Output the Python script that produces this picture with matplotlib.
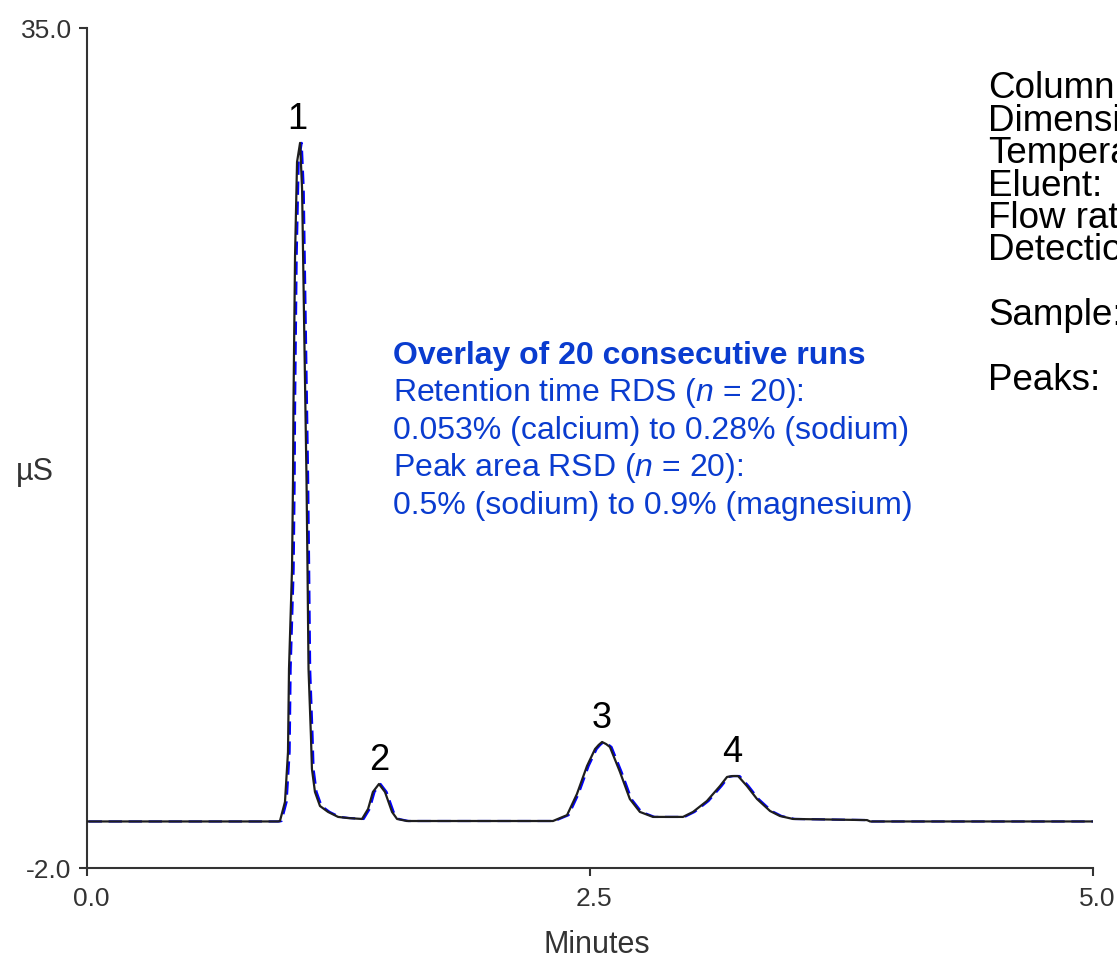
import numpy as np
import matplotlib
matplotlib.use('Agg')
import matplotlib.pyplot as plt
import matplotlib.transforms as mtransforms

plt.rcParams['font.family'] = ['Liberation Sans', 'DejaVu Sans']
plt.rcParams['mathtext.fontset'] = 'custom'
plt.rcParams['mathtext.rm'] = 'Liberation Sans'
plt.rcParams['mathtext.it'] = 'Liberation Sans:italic'
plt.rcParams['mathtext.bf'] = 'Liberation Sans:bold'

# chromatogram trace (minutes, uS)
minutes = [0.0, 0.950, 0.959, 0.984, 0.999, 1.004, 1.019, 1.024, 1.026, 1.034, 1.044, 1.059,
           1.069, 1.079, 1.091, 1.096, 1.101, 1.113, 1.118, 1.133, 1.158, 1.198, 1.248, 1.297, 1.367,
           1.397, 1.421, 1.451, 1.481, 1.516, 1.541, 1.590,
           2.316, 2.386, 2.435, 2.485, 2.525, 2.543, 2.560, 2.580, 2.599, 2.649, 2.698, 2.748, 2.813, 2.962,
           3.012, 3.081, 3.146, 3.181, 3.206, 3.236, 3.280, 3.330, 3.395, 3.444, 3.509, 3.877, 3.892, 5.0]
signal = [0.05, 0.05, 0.07, 0.91, 3.11, 6.77, 11.17, 15.13, 18.22, 24.96, 29.10, 29.94,
          27.91, 22.05, 15.13, 11.17, 6.77, 3.81, 2.36, 1.35, 0.73, 0.47, 0.25, 0.20, 0.16,
          0.60, 1.35, 1.70, 1.35, 0.47, 0.16, 0.07,
          0.07, 0.33, 1.26, 2.49, 3.24, 3.42, 3.55, 3.46, 3.33, 2.23, 1.04, 0.47, 0.25, 0.25,
          0.47, 0.95, 1.61, 2.01, 2.05, 2.05, 1.61, 1.04, 0.51, 0.29, 0.16, 0.11, 0.05, 0.05]

# small retention shift of the overlaid (blue) run
run_shift = 0.008

peak_labels = ['1', '2', '3', '4']
peak_times = [1.047, 1.451, 2.560, 3.205]
peak_heights = [29.94, 1.70, 3.55, 2.05]

x_ticks = [0.0, 2.5, 5.0]
x_ticklabels = ['0.0', '2.5', '5.0']
y_ticks = [-2.0, 35.0]
y_ticklabels = ['-2.0', '35.0']

note_lines = ['Overlay of 20 consecutive runs',
              'Retention time RDS ($n$ = 20):',
              '0.053% (calcium) to 0.28% (sodium)',
              'Peak area RSD ($n$ = 20):',
              '0.5% (sodium) to 0.9% (magnesium)']

cond_lines = ['Column:', 'Dimensions:', 'Temperature:', 'Eluent:', 'Flow rate:',
              'Detection:', '', 'Sample:', '', 'Peaks:']

W, H = 1117, 962
def px(x, y):
    return x / W, 1 - y / H

narrow = ['Liberation Sans Narrow', 'Liberation Sans']
axis_col = '#333333'
blue = '#0a3ccf'

fig = plt.figure(figsize=(W / 100, H / 100), dpi=100)
ax = fig.add_axes([87 / W, 1 - 869 / H, (1093 - 87) / W, (869 - 29) / H])

ax.plot(np.array(minutes) + run_shift, signal, color='#0000ff', lw=1.6,
        ls=(0, (6, 3)), zorder=2)
ax.plot(minutes, signal, color='#1e1e1e', lw=1.6, zorder=3, solid_joinstyle='round')

for lab, t, h in zip(peak_labels, peak_times, peak_heights):
    ax.annotate(lab, xy=(t, h), xytext=(0, 11), textcoords='offset points',
                ha='center', va='baseline', fontsize=26, color='black')

ax.set_xlim(0, 5)
ax.set_ylim(-2, 35)
ax.set_xticks(x_ticks)
ax.set_xticklabels(x_ticklabels, family=narrow, fontsize=19, color=axis_col)
ax.set_yticks(y_ticks)
ax.set_yticklabels(y_ticklabels, family=narrow, fontsize=19, color=axis_col)
ax.tick_params(axis='x', direction='out', length=6, width=1.5, color=axis_col, pad=7)
ax.tick_params(axis='y', direction='out', length=6, width=1.5, color=axis_col, pad=5)

# x tick labels sit a little right of their ticks
shift = mtransforms.ScaledTranslation(4 / 100, 0, fig.dpi_scale_trans)
for lbl in ax.get_xticklabels():
    lbl.set_transform(lbl.get_transform() + shift)

for s in ['top', 'right']:
    ax.spines[s].set_visible(False)
for s in ['left', 'bottom']:
    ax.spines[s].set_linewidth(1.5)
    ax.spines[s].set_color(axis_col)

fig.text(*px(597, 945), 'Minutes', family=narrow, fontsize=22, color=axis_col,
         ha='center', va='center')
fig.text(*px(35, 472), 'µS', family=narrow, fontsize=22, color=axis_col,
         ha='center', va='center')

for i, line in enumerate(note_lines):
    fig.text(*px(393, 356 + 37.5 * i), line, fontsize=23, color=blue,
             fontweight='bold' if i == 0 else 'normal', ha='left', va='center')

for i, line in enumerate(cond_lines):
    if line:
        fig.text(*px(988, 89 + 32.4 * i), line, fontsize=26.5, color='black',
                 ha='left', va='center')

fig.savefig('out.png', dpi=100)
